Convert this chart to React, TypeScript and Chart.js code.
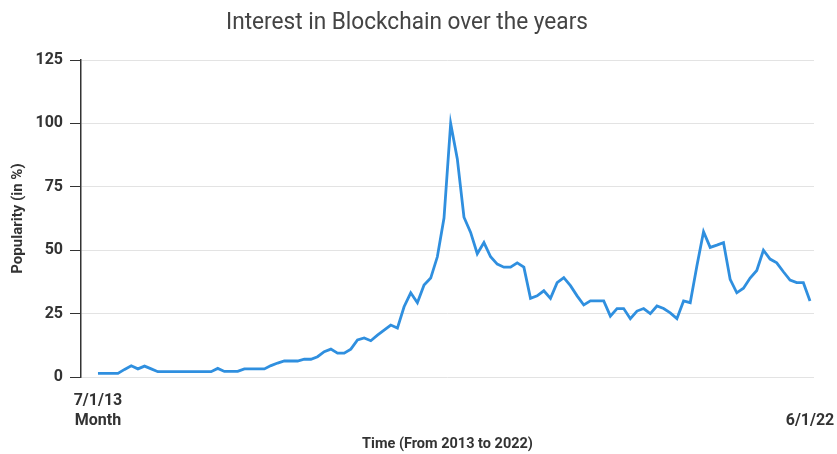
import React, { useEffect, useRef } from "react";
import { Chart, registerables } from "chart.js";

Chart.register(...registerables);

// Monthly search interest, July 2013 through June 2022
const POPULARITY: number[] = [
  1.4, 1.4, 1.4, 1.4, 3, 4.4, 3.2, 4.3, 3.2, 2.1,
  2.1, 2.1, 2.1, 2.1, 2.1, 2.1, 2.1, 2.1, 3.4, 2.2,
  2.2, 2.2, 3.2, 3.2, 3.2, 3.2, 4.5, 5.5, 6.3, 6.3,
  6.3, 7, 7, 8, 10, 11, 9.4, 9.4, 11, 14.6,
  15.4, 14.3, 16.5, 18.5, 20.5, 19.3, 27.7, 33.2, 29.3, 36.3,
  39, 47.4, 62.7, 100, 86, 63, 57, 48.6, 53, 47.4,
  44.5, 43.3, 43.3, 45, 43.3, 31, 32, 34, 31, 37.2,
  39.2, 36, 32, 28.4, 30, 30, 30, 24, 27, 27,
  23, 26, 27, 25, 28, 27, 25.3, 23, 30, 29.3,
  43.8, 57.3, 51.1, 52, 53, 38.5, 33.2, 35, 39, 42,
  50, 46.5, 45, 41.5, 38.2, 37.2, 37.2, 30,
];

const CHART_TITLE = "Interest in Blockchain over the years";
const X_TITLE = "Time (From 2013 to 2022)";
const Y_TITLE = "Popularity (in %)";
const START_LABEL = ["7/1/13", "Month"];
const END_LABEL = ["", "6/1/22"];
const Y_TICKS = [0, 25, 50, 75, 100, 125];

const TEXT_DARK = "#333333";

export default function App() {
  const canvasRef = useRef<HTMLCanvasElement>(null);

  useEffect(() => {
    const canvas = canvasRef.current;
    if (!canvas) return;

    const points = POPULARITY.map((v, i) => ({ x: i, y: v }));
    const lastIndex = POPULARITY.length - 1;

    // Title drawn by hand so it can use a narrow setting
    const titlePlugin = {
      id: "condensedTitle",
      afterDraw(chart: any) {
        const ctx = chart.ctx as CanvasRenderingContext2D;
        ctx.save();
        ctx.font = "400 23px Roboto";
        ctx.fillStyle = "#444444";
        ctx.textAlign = "center";
        ctx.textBaseline = "alphabetic";
        const w = ctx.measureText(CHART_TITLE).width;
        const sx = Math.min(1, 362 / w);
        ctx.translate(407, 29);
        ctx.scale(sx, 1);
        ctx.fillText(CHART_TITLE, 0, 0);
        ctx.restore();
      },
    };

    const chart = new Chart(canvas, {
      type: "line",
      data: {
        datasets: [
          {
            data: points,
            borderColor: "#2f8fdf",
            borderWidth: 2.8,
            pointRadius: 0,
            tension: 0,
            fill: false,
          },
        ],
      },
      options: {
        responsive: false,
        animation: false,
        layout: { padding: { top: 60, right: 23, bottom: 0, left: 0 } },
        plugins: {
          legend: { display: false },
          tooltip: { enabled: false },
          title: { display: false },
        },
        scales: {
          x: {
            type: "linear",
            min: -2.55,
            max: 107.6,
            grid: { display: false, drawTicks: false },
            border: { display: false },
            afterBuildTicks: (scale: any) => {
              scale.ticks = [{ value: 0 }, { value: lastIndex }];
            },
            afterFit: (scale: any) => {
              scale.height = 77;
              // end labels may hang past the plot edges
              scale.paddingLeft = 0;
              scale.paddingRight = 0;
            },
            ticks: {
              autoSkip: false,
              maxRotation: 0,
              padding: 14,
              color: TEXT_DARK,
              font: { family: "Roboto", size: 16, weight: "bold", lineHeight: 1.25 },
              callback: (v: any) => (v === 0 ? START_LABEL : END_LABEL),
            },
            title: {
              display: true,
              text: X_TITLE,
              color: TEXT_DARK,
              font: { family: "Roboto", size: 14.5, weight: "bold" },
              padding: { top: 0, bottom: 1 },
            },
          },
          y: {
            min: 0,
            max: 125,
            afterBuildTicks: (scale: any) => {
              scale.ticks = Y_TICKS.map((v) => ({ value: v }));
            },
            afterFit: (scale: any) => {
              scale.width = 81;
            },
            grid: { color: "#e3e3e3", tickColor: TEXT_DARK, tickLength: 11, lineWidth: 1 },
            border: { display: true, color: TEXT_DARK, width: 1.5 },
            ticks: {
              padding: 7,
              color: TEXT_DARK,
              font: { family: "Roboto", size: 16, weight: "bold" },
            },
            title: {
              display: true,
              text: Y_TITLE,
              color: TEXT_DARK,
              font: { family: "Roboto", size: 15, weight: "bold" },
              padding: { top: 9, bottom: 0 },
            },
          },
        },
      },
      plugins: [titlePlugin],
    } as any);

    return () => chart.destroy();
  }, []);

  return (
    <div style={{ position: "absolute", left: 0, top: 0, width: 837, height: 454, background: "#ffffff" }}>
      <canvas ref={canvasRef} width={837} height={454} style={{ display: "block" }} />
    </div>
  );
}
